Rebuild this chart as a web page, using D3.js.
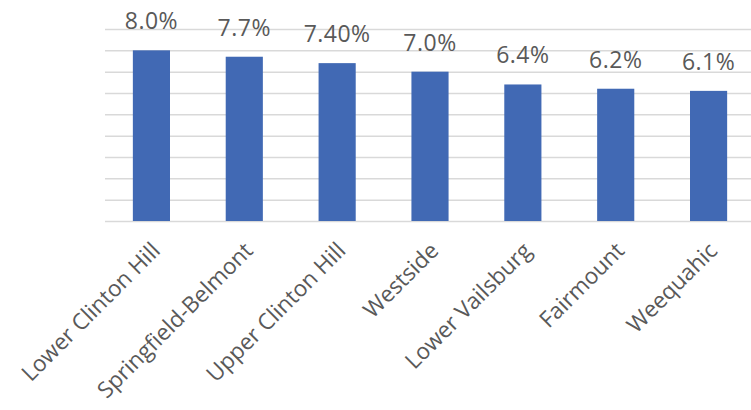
<!DOCTYPE html>
<html>
<head>
<meta charset="utf-8">
<script src="https://cdn.jsdelivr.net/npm/d3@7"></script>
<style>
  body { margin: 0; background: #fff; }
  svg { display: block; }
  .grid line { stroke: #d9d9d9; stroke-width: 1.5; }
  .grid .domain { display: none; }
  text { font-family: "Open Sans", sans-serif; fill: #595959; }
</style>
</head>
<body>
<svg width="751" height="410"></svg>
<script>
const neighborhoods = ["Lower Clinton Hill", "Springfield-Belmont", "Upper Clinton Hill",
  "Westside", "Lower Vailsburg", "Fairmount", "Weequahic"];
const rates = [8.0, 7.7, 7.4, 7.0, 6.4, 6.2, 6.1];
const rateLabels = ["8.0%", "7.7%", "7.40%", "7.0%", "6.4%", "6.2%", "6.1%"];

const width = 751, height = 410;
const margin = {top: 29, right: -4, bottom: 189, left: 105};

const svg = d3.select("svg");

const x = d3.scaleBand()
  .domain(neighborhoods)
  .range([margin.left, width - margin.right])
  .paddingInner(0.6)
  .paddingOuter(0.3);

const y = d3.scaleLinear()
  .domain([0, 9])
  .range([height - margin.bottom, margin.top]);

// horizontal gridlines, one per percent
svg.append("g")
  .attr("class", "grid")
  .attr("transform", `translate(${margin.left},0)`)
  .call(d3.axisLeft(y).ticks(9).tickSize(-(width - margin.right - margin.left)).tickFormat(""))
  .call(g => g.selectAll(".tick line").attr("x1", 0));

svg.append("g")
  .selectAll("rect")
  .data(rates)
  .join("rect")
  .attr("x", (d, i) => x(neighborhoods[i]))
  .attr("y", d => y(d))
  .attr("width", x.bandwidth())
  .attr("height", d => y(0) - y(d))
  .attr("fill", "#4169b4");

// value labels
svg.append("g")
  .selectAll("text")
  .data(rates)
  .join("text")
  .attr("x", (d, i) => x(neighborhoods[i]) + x.bandwidth() / 2)
  .attr("y", d => y(d) - 21)
  .attr("text-anchor", "middle")
  .style("font-size", "23px")
  .style("letter-spacing", "0.5px")
  .text((d, i) => rateLabels[i]);

// category labels, rotated
svg.append("g")
  .selectAll("text")
  .data(neighborhoods)
  .join("text")
  .attr("transform", d => `translate(${x(d) + x.bandwidth() / 2 + 10},${y(0) + 31}) rotate(-45)`)
  .attr("text-anchor", "end")
  .style("font-size", "22.5px")
  .text(d => d);
</script>
</body>
</html>
